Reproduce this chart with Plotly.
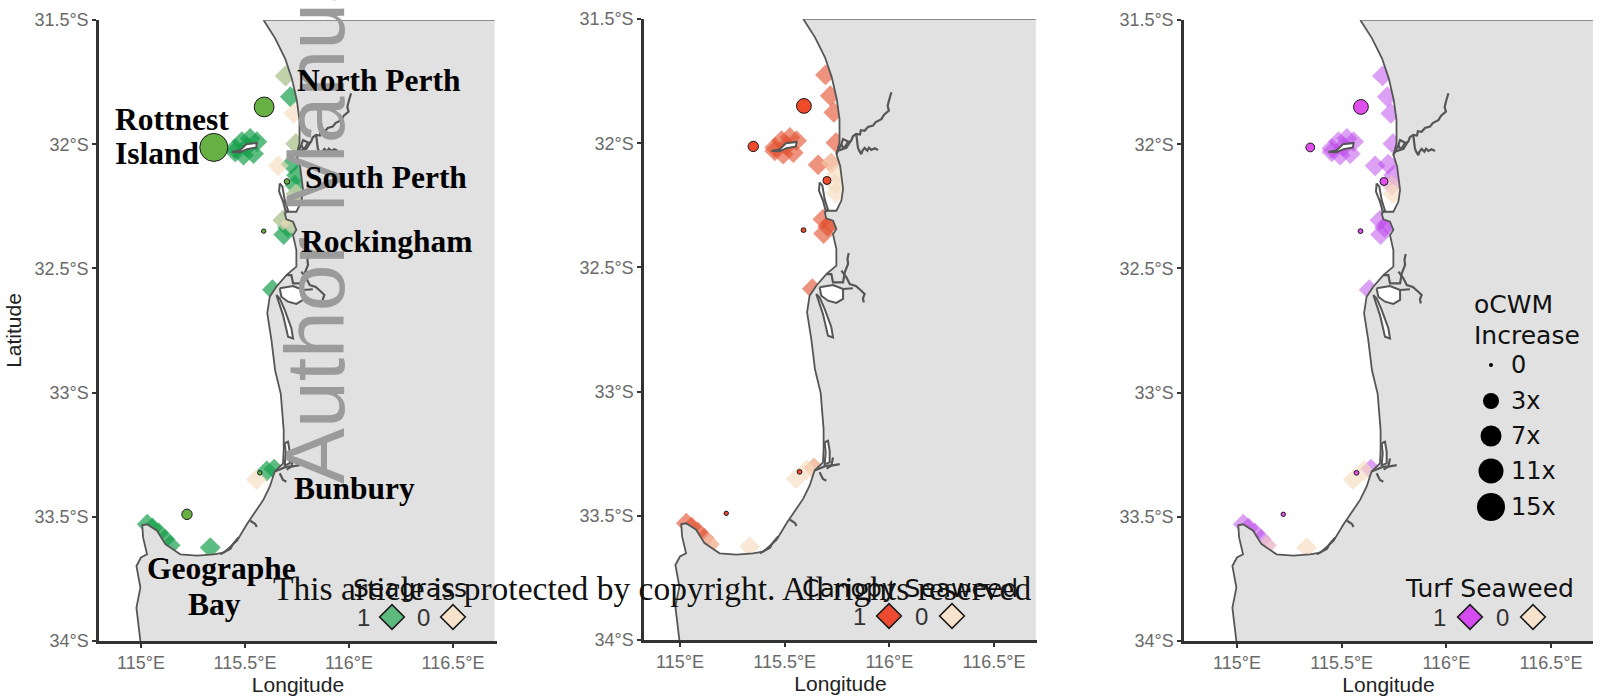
import numpy as np
import plotly.graph_objects as go

W, H = 1618, 700

# ---------- map geometry (lon / lat) ----------
coast_lon = [115.589,115.645,115.693,115.725,115.749,115.762,115.762,115.747,115.765,115.771,115.779,115.771,115.747,115.707,115.691,115.699,115.731,115.747,115.731,115.747,115.747,115.699,115.651,115.619,115.607,115.627,115.645,115.672,115.686,115.686,115.683,115.643,115.619,115.588,115.556,115.509,115.461,115.397,115.349,115.269,115.189,115.117,115.077,115.029,115.006,115.01,115.029,115.0,114.978,114.997,114.978,114.989,114.997]
coast_lat = [-31.5,-31.574,-31.655,-31.735,-31.823,-31.903,-31.997,-32.043,-32.091,-32.131,-32.184,-32.231,-32.272,-32.272,-32.278,-32.302,-32.312,-32.345,-32.366,-32.426,-32.493,-32.527,-32.574,-32.614,-32.681,-32.788,-32.911,-33.005,-33.151,-33.231,-33.285,-33.318,-33.379,-33.432,-33.47,-33.530,-33.597,-33.644,-33.651,-33.656,-33.651,-33.61,-33.556,-33.530,-33.534,-33.583,-33.651,-33.664,-33.698,-33.785,-33.866,-33.946,-34.0]
land_corner_lon = [116.7, 116.7]
land_corner_lat = [-34.0, -31.5]

river_paths = [
    # Swan
    ([115.747,115.771,115.778,115.787,115.80,115.818,115.826,115.842,115.86,115.864,115.882,115.898,115.922,115.935,115.962,115.975,115.998,115.992,115.998,116.004,116.010],
     [-32.043,-32.003,-32.016,-32.017,-31.998,-31.990,-31.972,-31.963,-31.965,-31.948,-31.95,-31.935,-31.929,-31.915,-31.903,-31.885,-31.869,-31.85,-31.829,-31.815,-31.795]),
    # Canning
    ([115.842,115.850,115.856,115.866,115.872,115.882,115.895,115.903,115.914,115.93,115.946],
     [-31.963,-32.017,-32.03,-32.044,-32.03,-32.019,-32.03,-32.018,-32.027,-32.02,-32.027]),
    ([115.771,115.779,115.811,115.795,115.755], [-32.003,-31.983,-31.997,-32.019,-32.03]),
    # Serpentine / Murray
    ([115.699,115.723,115.731,115.779,115.787,115.803,115.80,115.806], [-32.527,-32.527,-32.56,-32.56,-32.52,-32.486,-32.465,-32.442]),
    ([115.771,115.795,115.811,115.84,115.866,115.882,115.874,115.878], [-32.513,-32.54,-32.567,-32.575,-32.594,-32.607,-32.625,-32.641]),
    ([115.779,115.826], [-32.587,-32.584]),
    # Bunbury
    ([115.643,115.699,115.723,115.763], [-33.318,-33.298,-33.298,-33.292]),
    ([115.731,115.723,115.70], [-33.265,-33.298,-33.31]),
    ([115.667,115.683,115.699], [-33.325,-33.352,-33.359]),
    # Geographe inlets
    ([115.525,115.548,115.557,115.552], [-33.516,-33.528,-33.54,-33.535]),
    ([115.469,115.452,115.44,115.43,115.405,115.381], [-33.583,-33.6,-33.612,-33.628,-33.64,-33.651]),
]
water_bodies = [
    ([115.667,115.731,115.779,115.779,115.747,115.707,115.675,115.667], [-32.58,-32.571,-32.587,-32.627,-32.643,-32.634,-32.614,-32.58]),
    ([115.651,115.683,115.707,115.731,115.723,115.691,115.667,115.651], [-32.607,-32.688,-32.775,-32.782,-32.741,-32.667,-32.621,-32.607]),
    ([115.691,115.707,115.715,115.715,115.691,115.696,115.691], [-33.204,-33.198,-33.238,-33.285,-33.292,-33.245,-33.204]),
]
island_bodies = [
    ([115.437,115.477,115.506,115.557,115.554,115.509,115.477,115.437], [-32.031,-32.024,-32.0,-31.995,-32.013,-32.02,-32.032,-32.031]),
    ([115.667,115.664,115.683,115.696,115.707,115.691,115.680,115.667], [-32.158,-32.191,-32.231,-32.272,-32.268,-32.225,-32.171,-32.158]),
]

# ---------- survey sites: 1 present, 0 absent, 0.5 both recorded ----------
site_lon = [115.695,115.718,115.735,115.745,115.453,115.485,115.525,115.557,115.541,115.493,115.453,115.509,115.66,115.722,115.748,115.74,115.745,115.683,115.72,115.686,115.705,115.632,115.555,115.605,115.64,115.03,115.055,115.085,115.115,115.14,115.333]
site_lat = [-31.725,-31.809,-31.876,-31.998,-32.017,-31.99,-31.977,-31.99,-32.038,-32.044,-32.031,-32.01,-32.087,-32.08,-32.125,-32.165,-32.2,-32.306,-32.32,-32.364,-32.335,-32.586,-33.35,-33.315,-33.308,-33.53,-33.545,-33.565,-33.59,-33.615,-33.624]
seagrass = [0.5,1,0,0.5,1,1,1,1,1,1,1,1,0,1,1,1,0.5,0.5,0,1,1,1,0,1,1,1,1,1,1,1,1]
canopy   = [1,1,1,1,1,1,1,1,1,1,1,1,1,0.5,0,0,0,1,1,1,1,1,0,0,0.5,1,1,1,1,0.5,0]
turf     = [1,1,1,1,1,1,1,1,1,1,1,1,1,1,1,0.5,0,1,1,1,1,1,0,0,1,1,1,1,1,0.5,0]

# ---------- oCWM increase at the offshore sites ----------
cwm_lon = [115.592,115.35,115.702,115.59,115.571,115.221]
cwm_lat = [-31.85,-32.013,-32.15,-32.35,-33.323,-33.49]
cwm_seagrass = [6,15,0.4,0.1,0.1,1.6]
cwm_canopy   = [2.7,1.6,1.0,0.2,0.2,0.1]
cwm_turf     = [2.7,1.2,1.0,0.2,0.2,0.1]
size_levels  = [0,3,7,11,15]
size_labels  = ["0","3x","7x","11x","15x"]

x_ticks = [115,115.5,116,116.5]
x_ticklabels = ["115°E","115.5°E","116°E","116.5°E"]
y_ticks = [-31.5,-32,-32.5,-33,-33.5,-34]
y_ticklabels = ["31.5°S","32°S","32.5°S","33°S","33.5°S","34°S"]

panels = [
    dict(name="Seagrass", vals=seagrass, cwm=cwm_seagrass, px=(99,497), py=(20,641), t115=141, t1165=453,
         site="#17a04c", key="#5dbb80", dot="#66b044", title_x=410, k=(363,392,423,453), op=0.7),
    dict(name="Canopy Seaweed", vals=canopy, cwm=cwm_canopy, px=(644,1037), py=(19,640), t115=680, t1165=994,
         site="#e2502f", key="#ef4a32", dot="#ef4a2c", title_x=910, k=(859,889,921,952), op=0.62),
    dict(name="Turf Seaweed", vals=turf, cwm=cwm_turf, px=(1184,1593), py=(20,641), t115=1237, t1165=1551,
         site="#bb48ea", key="#d44cf0", dot="#df4fec", title_x=1489, k=(1439,1470,1502,1533), op=0.52),
]
ABSENT = "#f6dcc0"
ABSENT_KEY = "#f7e3cb"
LAND = "#e1e1e1"
LINE = "#565656"

def dot_size(v):
    return np.interp(v, size_levels, [4,16,21,25,28])

fig = go.Figure()
layout = dict(width=W, height=H, margin=dict(l=0,r=0,t=0,b=0), autosize=False,
              paper_bgcolor="white", plot_bgcolor="white", showlegend=False)
ann = []

def T(text, x, y, size, color="black", fam="DejaVu Sans", anchor="center", bold=False, angle=0, yanchor="middle"):
    ann.append(dict(text=f"<b>{text}</b>" if bold else text, x=x/W, y=1-y/H, xref="paper", yref="paper",
                    xanchor=anchor, yanchor=yanchor, showarrow=False, textangle=angle, borderpad=0,
                    font=dict(size=size, color=color, family=fam)))

T("Author Manuscript", 315, 485, 84, color="#9b9b9b", fam="Liberation Sans", angle=-90, yanchor="bottom")

for i, p in enumerate(panels):
    sfx = "" if i == 0 else str(i+1)
    xa, ya = "x"+sfx, "y"+sfx
    per = (p["t1165"]-p["t115"])/1.5
    xr = [115+(p["px"][0]-p["t115"])/per, 115+(p["px"][1]-p["t115"])/per]
    layout["xaxis"+sfx] = dict(domain=[p["px"][0]/W,p["px"][1]/W], range=xr, anchor=ya, tickmode="array", automargin=False,
        tickvals=x_ticks, ticktext=x_ticklabels, showgrid=False, zeroline=False, showline=True, linecolor="#333333",
        linewidth=2.5, ticks="outside", ticklen=4, tickwidth=2, tickcolor="#333333",
        tickfont=dict(size=18,color="#6a6a6a",family="Liberation Sans"),
        title=dict(text="Longitude", font=dict(size=21,color="#222222",family="Liberation Sans"), standoff=5))
    layout["yaxis"+sfx] = dict(domain=[1-p["py"][1]/H,1-p["py"][0]/H], range=[-34,-31.5], anchor=xa, tickmode="array", automargin=False,
        tickvals=y_ticks, ticktext=y_ticklabels, showgrid=False, zeroline=False, showline=True, linecolor="#333333",
        linewidth=2.5, ticks="outside", ticklen=4, tickwidth=2, tickcolor="#333333",
        tickfont=dict(size=18,color="#6a6a6a",family="Liberation Sans"))
    if i == 0:
        layout["yaxis"]["title"] = dict(text="Latitude", font=dict(size=21,color="#222222",family="Liberation Sans"), standoff=8)

    vals = np.array(p["vals"], float)
    lon, lat = np.array(site_lon), np.array(site_lat)
    pres = vals > 0
    absn = vals < 1
    fig.add_trace(go.Scatter(x=lon[pres], y=lat[pres], mode="markers", xaxis=xa, yaxis=ya, hoverinfo="skip",
        marker=dict(symbol="diamond", size=16, color=p["site"], opacity=p["op"], line=dict(width=0))))
    fig.add_trace(go.Scatter(x=lon[absn], y=lat[absn], mode="markers", xaxis=xa, yaxis=ya, hoverinfo="skip",
        marker=dict(symbol="diamond", size=16, color=ABSENT, opacity=0.65, line=dict(width=0))))

    # land over the site marks
    fig.add_trace(go.Scatter(x=coast_lon+land_corner_lon, y=coast_lat+land_corner_lat, mode="lines", fill="toself",
        fillcolor=LAND, line=dict(width=0), xaxis=xa, yaxis=ya, hoverinfo="skip"))
    for bx, by in water_bodies:
        fig.add_trace(go.Scatter(x=bx, y=by, mode="lines", fill="toself", fillcolor="white",
            line=dict(color=LINE,width=2), xaxis=xa, yaxis=ya, hoverinfo="skip"))
    for bx, by in island_bodies:
        fig.add_trace(go.Scatter(x=bx, y=by, mode="lines", fill="toself", fillcolor="white",
            line=dict(color=LINE,width=2), xaxis=xa, yaxis=ya, hoverinfo="skip"))
    for rx, ry in river_paths:
        fig.add_trace(go.Scatter(x=rx, y=ry, mode="lines", line=dict(color=LINE,width=2.2),
            xaxis=xa, yaxis=ya, hoverinfo="skip"))
    fig.add_trace(go.Scatter(x=coast_lon, y=coast_lat, mode="lines", line=dict(color=LINE,width=1.8),
        xaxis=xa, yaxis=ya, hoverinfo="skip"))
    fig.add_trace(go.Scatter(x=[coast_lon[0],land_corner_lon[1]], y=[coast_lat[0],land_corner_lat[1]], mode="lines",
        line=dict(color="#707070",width=1.7), cliponaxis=False, xaxis=xa, yaxis=ya, hoverinfo="skip"))

    # oCWM circles
    fig.add_trace(go.Scatter(x=cwm_lon, y=cwm_lat, mode="markers", xaxis=xa, yaxis=ya, hoverinfo="skip",
        marker=dict(size=dot_size(np.array(p["cwm"])), color=p["dot"], opacity=1, line=dict(color="#1a1a1a",width=1))))

    # legend keys, placed through the panel's own scales
    to_lon = lambda x: 115+(x-p["t115"])/per
    to_lat = lambda y: -31.5-(y-p["py"][0])/(p["py"][1]-p["py"][0])*2.5
    ky = p["py"][0]+597
    fig.add_trace(go.Scatter(x=[to_lon(p["k"][1]),to_lon(p["k"][3])], y=[to_lat(ky),to_lat(ky)], mode="markers",
        xaxis=xa, yaxis=ya, hoverinfo="skip",
        marker=dict(symbol="diamond", size=19, color=[p["key"],ABSENT_KEY], opacity=1, line=dict(color="#1a1a1a",width=1.6))))
    T(p["name"], p["title_x"], 588, 25, color="#111111")
    T("1", p["k"][0], ky, 24, color="#333333", fam="Liberation Sans")
    T("0", p["k"][2], ky, 24, color="#333333", fam="Liberation Sans")

    if i == 2:
        sy = [365,401,436,471,507]
        fig.add_trace(go.Scatter(x=[to_lon(1491)]*5, y=[to_lat(v) for v in sy], mode="markers",
            xaxis=xa, yaxis=ya, hoverinfo="skip",
            marker=dict(size=dot_size(np.array(size_levels)), color="black", opacity=1, line=dict(width=0))))
        for lab, v in zip(size_labels, sy):
            T(lab, 1510, v, 24, color="#111111", anchor="left")
        T("oCWM", 1473, 304, 25, color="#111111", anchor="left")
        T("Increase", 1473, 335, 25, color="#111111", anchor="left")

serif = "Liberation Serif"
T("North Perth", 296, 81, 31.5, fam=serif, anchor="left", bold=True)
T("Rottnest", 114, 119, 31.5, fam=serif, anchor="left", bold=True)
T("Island", 114, 154, 31.5, fam=serif, anchor="left", bold=True)
T("South Perth", 304, 177, 31.5, fam=serif, anchor="left", bold=True)
T("Rockingham", 300, 241, 31.5, fam=serif, anchor="left", bold=True)
T("Bunbury", 293, 488, 31.5, fam=serif, anchor="left", bold=True)
T("Geographe", 146, 568, 31.5, fam=serif, anchor="left", bold=True)
T("Bay", 214, 604, 31.5, fam=serif, bold=True)
T("This article is protected by copyright. All rights reserved", 272, 588, 33.5, fam=serif, anchor="left", color="#111111")

layout["annotations"] = ann
fig.update_layout(**layout)
fig.write_html("out.html", post_script="document.body.style.margin='0';", config={"displayModeBar": False})
